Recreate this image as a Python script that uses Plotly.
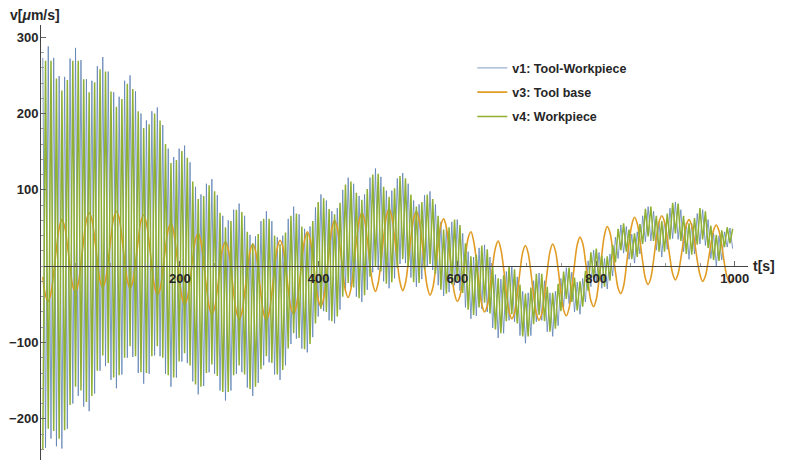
import plotly.graph_objects as go

# sampling of the measured signals (one sample per half period of the fast vibration)
T0 = 2.6     # s
DT = 3.93    # s

# v1: Tool-Workpiece [um/s], one row per ~39 s beat
v1 = [
    273, -238, 288, -226, 273, -236, 249, -239, 248, -213,
    272, -180, 286, -170, 270, -184, 245, -190, 243, -167,
    262, -137, 274, -131, 255, -149, 228, -160, 222, -142,
    243, -120, 250, -119, 229, -140, 200, -154, 191, -141,
    203, -117, 208, -118, 185, -141, 154, -158, 143, -146,
    154, -125, 158, -127, 136, -151, 104, -168, 94, -157,
    108, -139, 114, -141, 93, -163, 66, -176, 60, -163,
    74, -141, 82, -139, 66, -159, 41, -170, 39, -153,
    59, -130, 72, -126, 59, -142, 38, -149, 40, -130,
    62, -102, 78, -95, 68, -108, 49, -113, 52, -93,
    77, -66, 94, -59, 86, -71, 72, -75, 76, -57,
    100, -33, 116, -27, 108, -40, 92, -47, 94, -31,
    116, -8, 128, -5, 117, -20, 99, -29, 99, -16,
    115, 3, 122, 4, 108, -15, 86, -27, 81, -17,
    93, -1, 98, -5, 81, -25, 58, -39, 51, -34,
    58, -25, 61, -32, 43, -54, 19, -69, 12, -65,
    24, -56, 28, -60, 12, -81, -11, -94, -17, -88,
    -7, -71, 0, -73, -14, -91, -33, -101, -35, -91,
    -19, -73, -9, -71, -19, -86, -35, -92, -33, -78,
    -16, -54, -2, -49, -8, -60, -21, -63, -16, -47,
    7, -27, 21, -20, 18, -29, 10, -30, 16, -13,
    38, 10, 54, 17, 52, 9, 42, 4, 45, 16,
    66, 32, 78, 33, 72, 21, 58, 12, 60, 22,
    76, 36, 84, 35, 74, 19, 57, 9, 56, 16,
    69, 29, 74, 27, 61, 10, 43, 0, 40, 8,
    45, 25, 50, 23,
]

# v3: Tool base [um/s]
v3 = [
    -14, -38, -46, -35, -9, 23, 50, 61, 52, 28,
    -1, -26, -34, -23, 3, 34, 60, 70, 61, 37,
    7, -19, -28, -18, 7, 38, 63, 72, 63, 38,
    7, -19, -29, -20, 4, 34, 59, 67, 56, 31,
    -1, -27, -38, -30, -6, 24, 48, 56, 45, 19,
    -14, -40, -51, -42, -19, 11, 35, 43, 32, 5,
    -27, -53, -63, -55, -31, -1, 24, 32, 22, -3,
    -35, -60, -70, -61, -36, -6, 19, 29, 20, -5,
    -37, -62, -71, -61, -35, -3, 24, 34, 26, 1,
    -30, -55, -63, -52, -26, 7, 34, 45, 36, 12,
    -19, -44, -53, -42, -14, 20, 48, 60, 50, 25,
    -6, -32, -41, -30, -2, 32, 59, 70, 61, 35,
    3, -23, -33, -22, 5, 38, 65, 75, 65, 38,
    6, -21, -32, -22, 4, 37, 62, 72, 61, 34,
    0, -27, -38, -29, -4, 28, 54, 62, 51, 23,
    -10, -36, -46, -39, -16, 13, 37, 45, 33, 8,
    -24, -50, -60, -52, -28, 1, 24, 33, 22, -3,
    -35, -59, -69, -61, -37, -7, 18, 27, 17, -8,
    -38, -62, -71, -62, -37, -7, 19, 29, 20, -4,
    -34, -57, -65, -55, -29, 2, 28, 38, 30, 7,
    -22, -45, -53, -43, -17, 15, 41, 52, 44, 21,
    -7, -29, -36, -26, 0, 30, 54, 64, 56, 33,
    6, -16, -24, -15, 8, 36, 58, 66, 58, 37,
    11, -10, -18, -10, 10, 34, 54, 61, 53, 33,
    8, -11, -20, -13, 6, 28, 47, 54, 46, 27,
    3, -15, -22, -16,
]

# v4: Workpiece [um/s]
v4 = [
    -240, 269, -213, 269, -216, 246, -226, 230, -215, 244,
    -182, 269, -158, 269, -163, 245, -178, 228, -170, 241,
    -137, 258, -117, 255, -127, 229, -146, 209, -143, 219,
    -120, 239, -105, 232, -118, 203, -139, 181, -140, 186,
    -118, 200, -105, 191, -120, 160, -143, 135, -146, 139,
    -125, 151, -114, 142, -130, 111, -155, 88, -158, 92,
    -140, 106, -129, 98, -144, 70, -165, 51, -165, 59,
    -143, 74, -130, 71, -142, 45, -161, 30, -158, 42,
    -135, 62, -118, 62, -127, 40, -142, 29, -136, 44,
    -108, 66, -88, 69, -94, 52, -109, 43, -102, 59,
    -75, 84, -56, 89, -60, 75, -72, 68, -66, 83,
    -40, 107, -22, 111, -28, 96, -42, 87, -38, 101,
    -14, 120, 0, 121, -7, 104, -23, 91, -21, 102,
    -2, 118, 9, 115, -1, 94, -21, 78, -22, 84,
    -4, 94, 3, 88, -10, 66, -31, 48, -36, 51,
    -24, 61, -19, 54, -35, 30, -57, 13, -64, 15,
    -54, 27, -48, 22, -62, -1, -83, -16, -88, -12,
    -72, 0, -63, -4, -75, -24, -92, -36, -92, -28,
    -76, -10, -64, -10, -72, -27, -86, -35, -82, -23,
    -59, -7, -43, -2, -47, -15, -58, -20, -53, -6,
    -32, 18, -16, 23, -19, 14, -27, 13, -19, 28,
    5, 49, 21, 56, 19, 48, 9, 43, 12, 55,
    29, 75, 39, 78, 33, 66, 19, 59, 19, 69,
    35, 83, 43, 82, 33, 66, 16, 56, 15, 63,
    28, 76, 35, 72, 24, 53, 8, 41, 7, 47,
    25, 51, 30, 49,
]

t = [round(T0 + DT * i, 2) for i in range(len(v1))]

names = ['v1: Tool-Workpiece', 'v3: Tool base', 'v4: Workpiece']
colors = ['#5E81B5', '#E19C24', '#8FB032']

X_MAX = 1019
Y_MIN, Y_MAX = -254, 316
FONT = 'Liberation Sans, Arial, sans-serif'
TXT = '#262626'

fig = go.Figure()
fig.add_trace(go.Scatter(x=t, y=v1, mode='lines', name=names[0], legendgroup='a',
                         line=dict(color=colors[0], width=0.8)))
fig.add_trace(go.Scatter(x=t, y=v3, mode='lines', name=names[1], legendgroup='b',
                         line=dict(color=colors[1], width=1.6, shape='spline')))
fig.add_trace(go.Scatter(x=t, y=v4, mode='lines', name=names[2], legendgroup='c',
                         line=dict(color=colors[2], width=1.5)))

# the page body adds an 8px offset, so the figure is 8px smaller than the window
fig.update_layout(
    width=777, height=462,
    margin=dict(l=33, r=37, t=17, b=10),
    plot_bgcolor='white', paper_bgcolor='white',
    font=dict(family=FONT, size=13, color=TXT),
    legend=dict(x=0.61, y=0.935, xanchor='left', yanchor='top',
                bgcolor='rgba(0,0,0,0)',
                font=dict(size=12.5, color=TXT, weight='bold'),
                tracegroupgap=5),
    xaxis=dict(
        range=[0, X_MAX], anchor='free', automargin=False,
        position=(0 - Y_MIN) / (Y_MAX - Y_MIN),  # axis drawn through v = 0
        showline=True, linecolor='#444', linewidth=1,
        ticks='inside', ticklen=5, tickcolor='#666',
        tickmode='array', tickvals=[200, 400, 600, 800, 1000],
        minor=dict(tickmode='linear', tick0=0, dtick=50, ticks='inside',
                   ticklen=3, tickcolor='#999'),
        tickfont=dict(size=13, color=TXT, weight='bold'),
        showgrid=False, zeroline=False,
    ),
    yaxis=dict(
        range=[Y_MIN, Y_MAX], automargin=False,
        showline=True, linecolor='#444', linewidth=1,
        ticks='inside', ticklen=5, tickcolor='#666',
        tickmode='array', tickvals=[-200, -100, 100, 200, 300],
        minor=dict(tickmode='linear', tick0=0, dtick=20, ticks='inside',
                   ticklen=3, tickcolor='#999'),
        tickfont=dict(size=13, color=TXT, weight='bold'),
        ticklabelstandoff=-1,
        showgrid=False, zeroline=False,
    ),
)

fig.add_annotation(text='v[<i>μ</i>m/s]', xref='paper', yref='paper',
                   x=-0.0467, y=1.0, xanchor='left', yanchor='bottom',
                   showarrow=False, font=dict(size=14, color=TXT, weight='bold'))
fig.add_annotation(text='t[s]', xref='paper', yref='y', x=1.004, y=0,
                   xanchor='left', yanchor='middle', showarrow=False,
                   font=dict(size=14, color=TXT, weight='bold'))

fig.write_html("out.html")
